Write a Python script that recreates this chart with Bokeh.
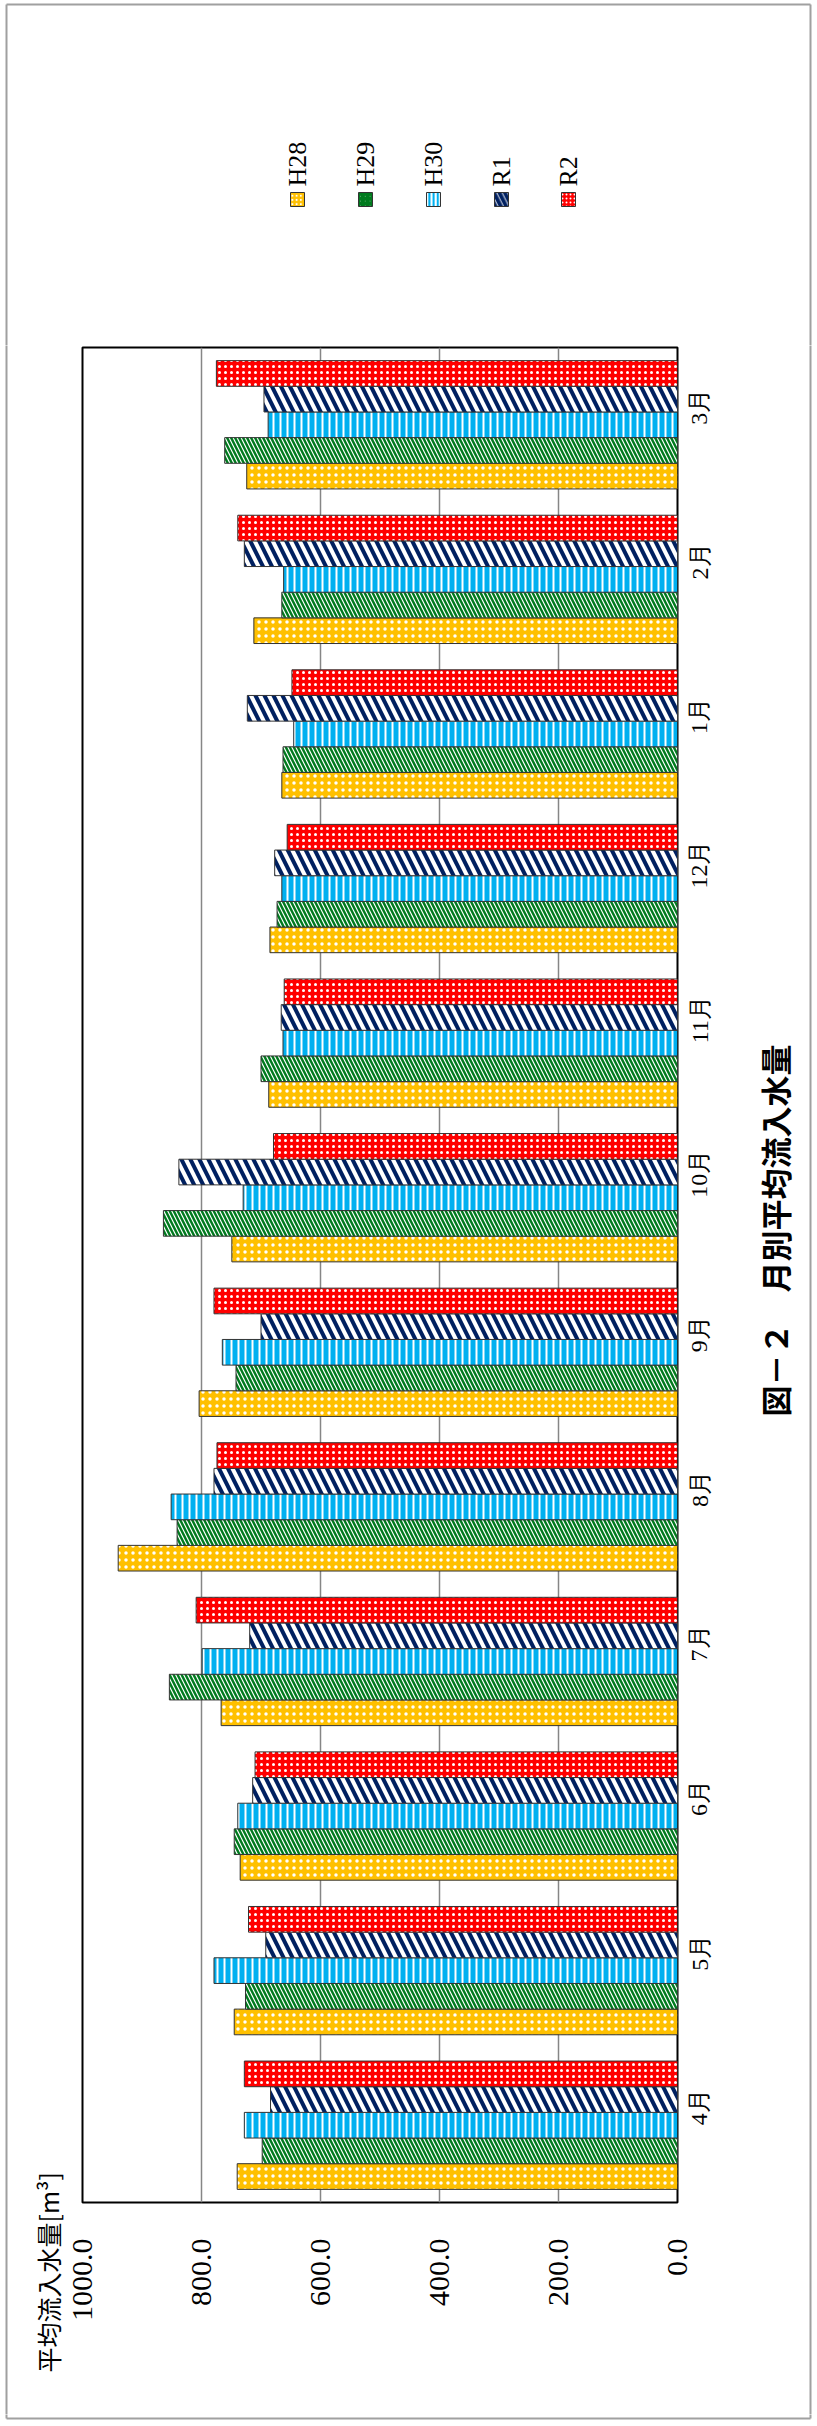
import math
from bokeh.plotting import figure
from bokeh.layouts import column, row
from bokeh.models import ColumnDataSource, FactorRange, Range1d, FixedTicker, PrintfTickFormatter
from bokeh.core.properties import value
from bokeh.transform import dodge
from bokeh.embed import file_html
from bokeh.resources import INLINE

# Monthly average inflow [m3] per fiscal year
months = ["4月", "5月", "6月", "7月", "8月", "9月", "10月", "11月", "12月", "1月", "2月", "3月"]
H28 = [740, 745, 735, 767, 940, 804, 749, 687, 685, 665, 712, 724]
H29 = [698, 726, 745, 854, 841, 742, 864, 700, 673, 663, 665, 761]
H30 = [728, 779, 739, 799, 851, 765, 730, 663, 665, 645, 662, 688]
R1 = [684, 692, 714, 719, 779, 700, 838, 666, 677, 723, 728, 695]
R2 = [728, 721, 710, 809, 774, 779, 679, 661, 656, 648, 739, 775]
series_names = ["H28", "H29", "H30", "R1", "R2"]
value_ticks = [0, 200, 400, 600, 800, 1000]
caption = "図－２　月別平均流入水量"
value_title = "平均流入水量[m³]"

PAGE_W, PAGE_H = 817, 2426
HEAD_H, FOOT_H = 345, 12
BODY_H = PAGE_H - HEAD_H - FOOT_H
LEFT_W, RIGHT_W = 66, 77
MAIN_W = PAGE_W - LEFT_W - RIGHT_W
BORDER = dict(line_color="#A0A0A0", line_width=2)

styles = {
    "H28": dict(fill_color="#FFC000", hatch_pattern="dot", hatch_color="white",
                hatch_scale=7, hatch_weight=1.5),
    "H29": dict(fill_color="white", hatch_pattern="left_diagonal_line", hatch_color="#007A1E",
                hatch_scale=8, hatch_weight=2.4),
    "H30": dict(fill_color="#00B0F0", hatch_pattern="vertical_line", hatch_color="white",
                hatch_scale=7, hatch_weight=2),
    "R1": dict(fill_color="white", hatch_pattern="left_diagonal_line", hatch_color="#002060",
               hatch_scale=18, hatch_weight=4),
    "R2": dict(fill_color="#FF0000", hatch_pattern="dot", hatch_color="white",
               hatch_scale=6, hatch_weight=4),
}


def free_frame(f):
    # keep each panel's own frame instead of lining it up with its neighbours
    if "frame_align" in f.properties():
        f.frame_align = False
    return f


def blank(w, h):
    """A bare drawing surface in pixel coordinates, y growing downward."""
    f = figure(width=w, height=h, x_range=Range1d(0, w), y_range=Range1d(h, 0),
               min_border=0, x_axis_location=None, y_axis_location=None,
               toolbar_location=None, output_backend="svg", title=None)
    f.outline_line_color = None
    f.background_fill_color = "white"
    f.border_fill_color = "white"
    f.grid.visible = False
    return free_frame(f)


# ---- header: legend and top of the page border
head = blank(PAGE_W, HEAD_H)
head.segment(x0=[6, 6, 810], y0=[4, 4, 4], x1=[810, 6, 810], y1=[4, HEAD_H + 5, HEAD_H + 5], **BORDER)
legend_x = [297, 365, 433, 501, 568]
for name, lx in zip(series_names, legend_x):
    st = dict(styles[name])
    st["hatch_scale"] = max(4, st["hatch_scale"] * 0.6)
    head.rect(x=[lx], y=[199], width=14, height=14, line_color="#333333", line_width=1, **st)
head.text(x=legend_x, y=[186] * len(legend_x), text=series_names, angle=math.pi / 2,
          text_align="left", text_baseline="middle", text_font=value("Liberation Serif"),
          text_font_size="26px", text_color="black")

# ---- left strip: value-axis title and page border
left = blank(LEFT_W, BODY_H)
left.segment(x0=[6], y0=[-5], x1=[6], y1=[BODY_H + 5], **BORDER)
left.text(x=[47], y=[2372 - HEAD_H], text=[value_title], angle=math.pi / 2,
          text_align="left", text_baseline="middle", text_font=value("Noto Sans CJK JP"),
          text_font_size="25px", text_color="black")

# ---- right strip: caption and page border
right = blank(RIGHT_W, BODY_H)
right.segment(x0=[70], y0=[-5], x1=[70], y1=[BODY_H + 5], **BORDER)
right.text(x=[34], y=[1230 - HEAD_H], text=[caption], angle=math.pi / 2,
           text_align="center", text_baseline="middle", text_font=value("Noto Sans CJK JP"),
           text_font_style="bold", text_font_size="31px", text_color="black")

# ---- footer: bottom of the page border
foot = blank(PAGE_W, FOOT_H)
foot.segment(x0=[6, 6, 810], y0=[4, -5, -5], x1=[810, 6, 810], y1=[4, 4, 4], **BORDER)

# ---- main chart: bars grow leftward from zero, months run upward
src = ColumnDataSource(dict(month=months, H28=H28, H29=H29, H30=H30, R1=R1, R2=R2))
p = figure(width=MAIN_W, height=BODY_H, output_backend="svg", toolbar_location=None,
           title=None, x_range=Range1d(1000, 0), y_range=FactorRange(factors=months),
           x_axis_location="below", y_axis_location="right",
           min_border_left=82 - LEFT_W, min_border_right=MAIN_W - (677 - LEFT_W),
           min_border_top=2, min_border_bottom=212)
free_frame(p)
p.background_fill_color = "white"
p.border_fill_color = "white"
p.outline_line_color = "black"
p.outline_line_width = 2

xa = p.xaxis[0]
xa.ticker = FixedTicker(ticks=value_ticks)
xa.formatter = PrintfTickFormatter(format="%.1f")
xa.major_label_orientation = math.pi / 2
xa.major_label_text_font = "Liberation Serif"
xa.major_label_text_font_size = "30px"
xa.major_label_text_color = "black"
xa.major_label_standoff = 36
xa.major_tick_out = 0
xa.major_tick_in = 0
xa.minor_tick_out = 0
xa.minor_tick_in = 0
xa.axis_line_color = None

ya = p.yaxis[0]
ya.major_label_orientation = math.pi / 2
ya.major_label_text_font = "Liberation Serif"
ya.major_label_text_font_size = "24px"
ya.major_label_text_color = "black"
ya.major_label_standoff = 22
ya.major_tick_out = 0
ya.major_tick_in = 0
ya.axis_line_color = None

p.xgrid.grid_line_color = "#868686"
p.xgrid.grid_line_width = 1.5
p.ygrid.grid_line_color = None

bar_h = 0.166
offsets = [-2 * bar_h, -bar_h, 0, bar_h, 2 * bar_h]
for name, off in zip(series_names, offsets):
    p.hbar(y=dodge("month", off, range=p.y_range), left=0, right=name, height=bar_h,
           source=src, line_color="#333333", line_width=1, **styles[name])

page = column(head, row(left, p, right), foot)
open("out.html", "w").write(file_html(page, INLINE))
